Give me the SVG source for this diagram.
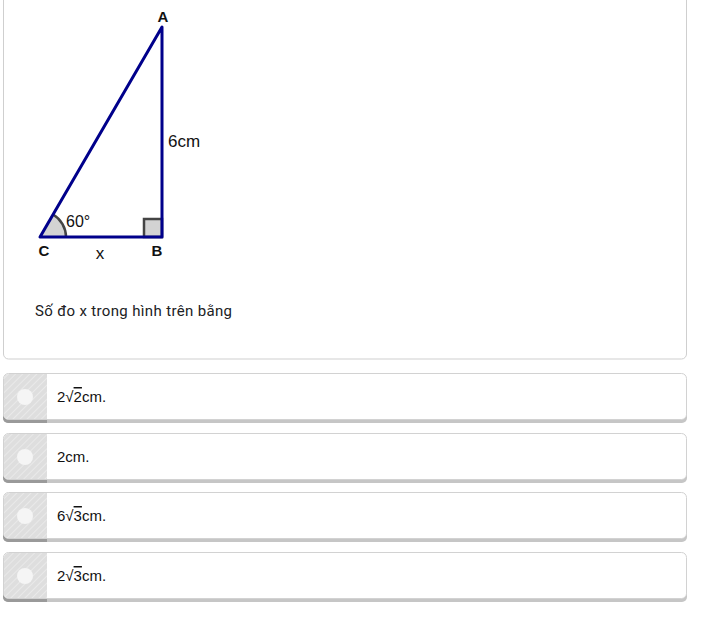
<svg xmlns="http://www.w3.org/2000/svg" width="705" height="621" viewBox="0 0 705 621">
<defs>
<style>
.lbl{font-family:"Liberation Sans",Arial,sans-serif;font-size:17px;fill:#111}
.b{font-weight:bold;font-size:15px}
.q{font-family:Roboto,"Liberation Sans",sans-serif;font-size:15px;fill:#202124}
.opt{font-family:"Liberation Sans",Arial,sans-serif;font-size:15px;fill:#111}
.main{fill:#fff;stroke:#d2d2d2;stroke-width:1}
.sh{fill:#c6c6c6}
.shd{fill:#9a9a9a}
.strip{fill:url(#stripes)}
.dot{fill:#f5f5f5}
.tri{fill:none;stroke:#00008b;stroke-width:3;stroke-linejoin:round}
</style>
<pattern id="stripes" width="5" height="5" patternUnits="userSpaceOnUse" patternTransform="rotate(45)">
<rect width="5" height="5" fill="#dedede"/>
<line x1="0" y1="0" x2="0" y2="5" stroke="#e9e9e9" stroke-width="2"/>
</pattern>
</defs>
<rect x="0" y="0" width="705" height="621" fill="#fff"/>
<g id="card">
<rect x="3.5" y="-10" width="683" height="369" rx="5" fill="#fff" stroke="#cfcfcf"/>
</g>
<g id="figure">
<path d="M40,237 L66,237 A26,26 0 0 0 53,214.5 Z" fill="#d3d3d3" stroke="none"/>
<path d="M66,237 A26,26 0 0 0 53,214.5" fill="none" stroke="#444" stroke-width="2.5"/>
<rect x="144" y="219" width="18" height="18" fill="#d3d3d3" stroke="#444" stroke-width="2.5"/>
<polygon class="tri" points="40,237 162,237 162,27"/>
<text class="lbl b" x="163" y="22" text-anchor="middle">A</text>
<text class="lbl" x="168" y="147">6cm</text>
<text class="lbl" x="66" y="227" style="font-size:16px">60°</text>
<text class="lbl b" x="44" y="256" text-anchor="middle">C</text>
<text class="lbl" x="100" y="259" text-anchor="middle">x</text>
<text class="lbl b" x="157" y="256" text-anchor="middle">B</text>
</g>
<g id="question">
<text class="q" x="35" y="316" textLength="197" lengthAdjust="spacing">Số đo x trong hình trên bằng</text>
</g>
<g id="opt1">
<rect class="sh" x="3" y="377" width="684" height="46" rx="5"/>
<path class="shd" d="M47,377 V423 H8 A5,5 0 0 1 3,418 V382 A5,5 0 0 1 8,377 Z"/>
<rect class="main" x="3.5" y="373.5" width="683" height="46" rx="5"/>
<path class="strip" d="M47,374 V419 H8 A4.5,4.5 0 0 1 4,415 V378 A4.5,4.5 0 0 1 8,374 Z"/>
<circle class="dot" cx="25" cy="397" r="8"/>
<text class="opt" x="57" y="402">2√<tspan text-decoration="overline">2</tspan>cm.</text>
</g>
<g id="opt2">
<rect class="sh" x="3" y="437" width="684" height="46" rx="5"/>
<path class="shd" d="M47,437 V483 H8 A5,5 0 0 1 3,478 V442 A5,5 0 0 1 8,437 Z"/>
<rect class="main" x="3.5" y="433.5" width="683" height="46" rx="5"/>
<path class="strip" d="M47,434 V479 H8 A4.5,4.5 0 0 1 4,475 V438 A4.5,4.5 0 0 1 8,434 Z"/>
<circle class="dot" cx="25" cy="457" r="8"/>
<text class="opt" x="57" y="462">2cm.</text>
</g>
<g id="opt3">
<rect class="sh" x="3" y="496" width="684" height="46" rx="5"/>
<path class="shd" d="M47,496 V542 H8 A5,5 0 0 1 3,537 V501 A5,5 0 0 1 8,496 Z"/>
<rect class="main" x="3.5" y="492.5" width="683" height="46" rx="5"/>
<path class="strip" d="M47,493 V538 H8 A4.5,4.5 0 0 1 4,534 V497 A4.5,4.5 0 0 1 8,493 Z"/>
<circle class="dot" cx="25" cy="516" r="8"/>
<text class="opt" x="57" y="521">6√<tspan text-decoration="overline">3</tspan>cm.</text>
</g>
<g id="opt4">
<rect class="sh" x="3" y="556" width="684" height="46" rx="5"/>
<path class="shd" d="M47,556 V602 H8 A5,5 0 0 1 3,597 V561 A5,5 0 0 1 8,556 Z"/>
<rect class="main" x="3.5" y="552.5" width="683" height="46" rx="5"/>
<path class="strip" d="M47,553 V598 H8 A4.5,4.5 0 0 1 4,594 V557 A4.5,4.5 0 0 1 8,553 Z"/>
<circle class="dot" cx="25" cy="576" r="8"/>
<text class="opt" x="57" y="581">2√<tspan text-decoration="overline">3</tspan>cm.</text>
</g>
</svg>
